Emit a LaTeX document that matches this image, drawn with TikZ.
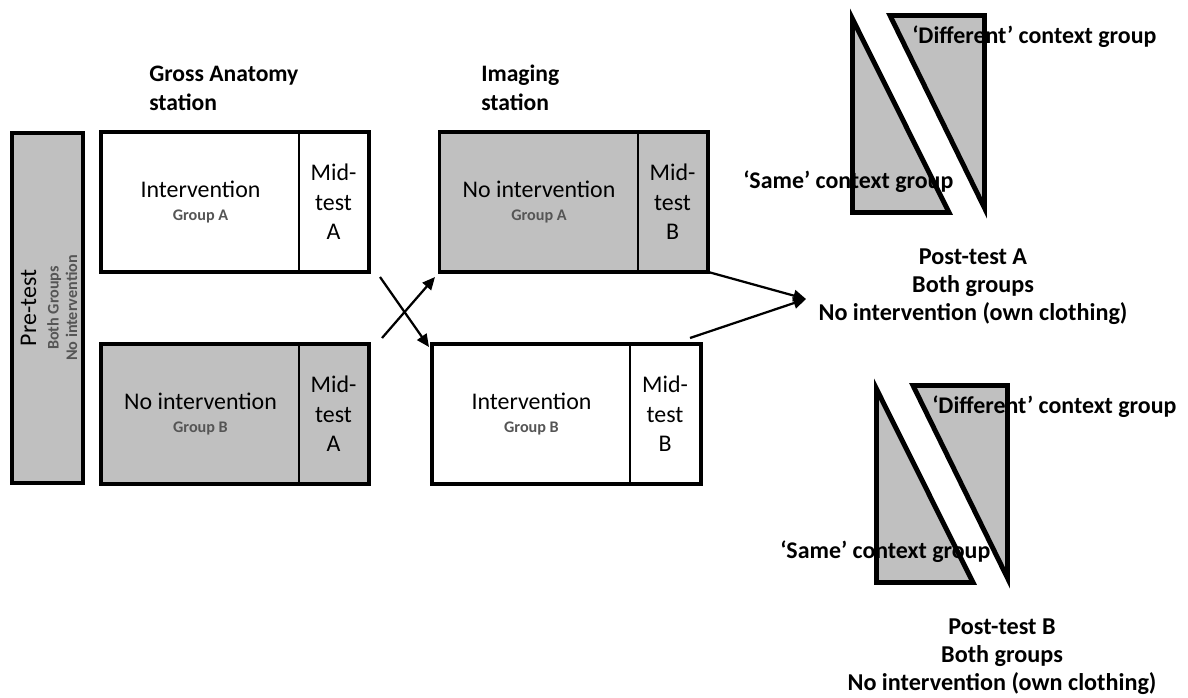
\documentclass[tikz,border=0pt]{standalone}
\usepackage{fontspec}
\setmainfont{Carlito}
\usetikzlibrary{arrows.meta}
\definecolor{boxgray}{RGB}{192,192,192}
\definecolor{subgray}{RGB}{85,85,85}
\newcommand{\grouplabel}[1]{{\fontsize{11.5}{13}\selectfont\bfseries\color{subgray}#1}}
\tikzset{
  part/.style={draw,line width=1.2pt,minimum height=3.45cm,inner sep=0pt,align=center},
  mainpart/.style={part,minimum width=4.925cm,font=\fontsize{17}{20}\selectfont},
  midpart/.style={part,minimum width=1.725cm,font=\fontsize{17}{21}\selectfont},
  frame/.style={line width=2.6pt},
  head/.style={align=left,inner sep=0pt,font=\fontsize{16.8}{20.5}\selectfont\bfseries},
  post/.style={align=center,inner sep=0pt,font=\fontsize{17.2}{20}\selectfont\bfseries},
  ctx/.style={inner sep=0pt,anchor=west,font=\fontsize{17}{20}\selectfont\bfseries},
  tri/.style={fill=boxgray,draw,line width=3.5pt,line join=miter},
  arr/.style={line width=1.6pt,-{Triangle[length=9pt,width=8pt]}}
}
\begin{document}
\begin{tikzpicture}[x=0.025cm,y=-0.025cm]
\useasboundingbox (0,0) rectangle (1188,697);

% pre-test column
\node[draw,fill=boxgray,line width=2.6pt,minimum width=1.775cm,minimum height=8.75cm,inner sep=0pt] (pre) at (47.5,308) {};
\node[rotate=90,align=center,inner sep=0pt] (pretxt) at (49,308)
  {{\fontsize{17}{20}\selectfont Pre-test}\\[4pt]\grouplabel{Both Groups}\\[1pt]\grouplabel{No intervention}};

% gross anatomy station
\node[head,anchor=west] (gahead) at (149,88) {Gross Anatomy\\station};
\node[mainpart] (gaA) at (200.5,202) {Intervention\\[-4pt]\grouplabel{Group A}};
\node[midpart] (gaAm) at (333.5,202) {Mid-\\test\\A};
\draw[frame] (gaA.north west) rectangle (gaAm.south east);
\node[mainpart,fill=boxgray] (gaB) at (200.5,414) {No intervention\\[-4pt]\grouplabel{Group B}};
\node[midpart,fill=boxgray] (gaBm) at (333.5,414) {Mid-\\test\\A};
\draw[frame] (gaB.north west) rectangle (gaBm.south east);

% imaging station
\node[head,anchor=west] (imghead) at (481,88) {Imaging\\station};
\node[mainpart,fill=boxgray] (imgA) at (539,202) {No intervention\\[-4pt]\grouplabel{Group A}};
\node[midpart,fill=boxgray] (imgAm) at (672.5,202) {Mid-\\test\\B};
\draw[frame] (imgA.north west) rectangle (imgAm.south east);
\node[mainpart] (imgB) at (531.5,414) {Intervention\\[-4pt]\grouplabel{Group B}};
\node[midpart,minimum width=1.75cm] (imgBm) at (665,414) {Mid-\\test\\B};
\draw[frame] (imgB.north west) rectangle (imgBm.south east);

% cross-over
\coordinate (xlow) at (382,338);
\coordinate (xhigh) at (380,277);
\coordinate (xtoA) at (435,277);
\coordinate (xtoB) at (429,347);
\draw[arr] (xlow) -- (xtoA);
\draw[arr] (xhigh) -- (xtoB);

% into post-test A
\coordinate (pA) at (806,299);
\coordinate (bout) at (690,338);
\draw[arr] (imgAm.south east) -- (pA);
\draw[arr] (bout) -- (pA);

% post-test A
\filldraw[tri] (852.5,19) -- (852.5,212.5) -- (949,212.5) -- cycle;
\filldraw[tri] (890,15.5) -- (984.5,15.5) -- (984.5,208) -- cycle;
\node[ctx] (diffA) at (912,37) {‘Different’ context group};
\node[ctx] (sameA) at (743,182) {‘Same’ context group};
\node[post] (postA) at (973,287) {Post-test A\\Both groups\\No intervention (own clothing)};

% post-test B
\filldraw[tri] (876.5,389) -- (876.5,582.5) -- (973,582.5) -- cycle;
\filldraw[tri] (913,385.5) -- (1007.5,385.5) -- (1007.5,578) -- cycle;
\node[ctx] (diffB) at (932,407) {‘Different’ context group};
\node[ctx] (sameB) at (780,552) {‘Same’ context group};
\node[post] (postB) at (1002,657) {Post-test B\\Both groups\\No intervention (own clothing)};
\end{tikzpicture}
\end{document}
